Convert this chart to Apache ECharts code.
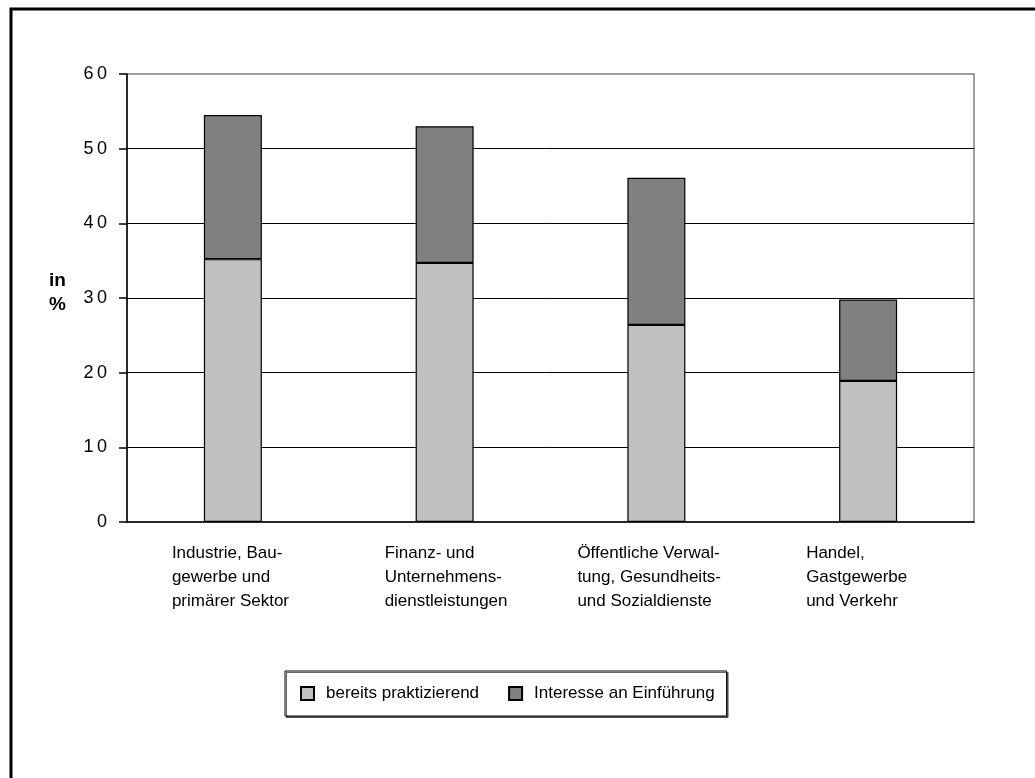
<!DOCTYPE html>
<html>
<head>
<meta charset="utf-8">
<script src="https://cdn.jsdelivr.net/npm/echarts@6/dist/echarts.min.js"></script>
<style>
  html, body { margin: 0; padding: 0; background: #fff; overflow: hidden; }
  #chart { width: 1035px; height: 778px; }
</style>
</head>
<body>
<div id="chart"></div>
<script>
// Sectors (each label broken into its printed lines)
const categories = [
  ['Industrie, Bau-', 'gewerbe und', 'primärer Sektor'],
  ['Finanz- und', 'Unternehmens-', 'dienstleistungen'],
  ['Öffentliche Verwal-', 'tung, Gesundheits-', 'und Sozialdienste'],
  ['Handel,', 'Gastgewerbe', 'und Verkehr']
];
const seriesNames = ['bereits praktizierend', 'Interesse an Einführung'];
// Share of firms, in %
const practising = [35.2, 34.7, 26.4, 18.9];
const interested = [19.3, 18.3, 19.7, 10.9];
const yMin = 0, yMax = 60, yStep = 10;
const axisTitle = 'in\n%';

// Width of the wrapped text box under each category (lines are left-aligned inside it)
const labelBoxWidths = [122, 120, 158, 124];

const FONT = 'Liberation Sans, Arial, sans-serif';
const chart = echarts.init(document.getElementById('chart'), null, { renderer: 'canvas' });

const labelRich = {};
labelBoxWidths.forEach((w, i) => {
  labelRich['l' + i] = { align: 'left', width: w, fontSize: 17, lineHeight: 24, fontFamily: FONT, color: '#000' };
});

chart.setOption({
  backgroundColor: '#fff',
  animation: false,
  textStyle: { fontFamily: FONT, color: '#000' },
  grid: {
    left: 127, top: 74, right: 61, bottom: 256,
    show: true, borderColor: '#808080', borderWidth: 1.5, backgroundColor: 'transparent'
  },
  graphic: [
    {
      type: 'rect', silent: true, z: 100,
      shape: { x: 11, y: 9, width: 1200, height: 1000 },
      style: { fill: 'none', stroke: '#000', lineWidth: 3 }
    },
    {
      type: 'text', left: 49, top: 269, silent: true,
      style: { text: axisTitle, font: 'bold 19px ' + FONT, fill: '#000', lineHeight: 24 }
    }
  ],
  legend: {
    data: seriesNames,
    left: 285, top: 671,
    orient: 'horizontal',
    padding: [14, 12, 14, 15],
    itemGap: 29,
    itemWidth: 13, itemHeight: 13,
    backgroundColor: '#fff',
    borderColor: '#000', borderWidth: 1,
    shadowColor: 'rgba(0,0,0,0.6)', shadowOffsetX: 1.5, shadowOffsetY: 1.5, shadowBlur: 0,
    icon: 'rect',
    selectedMode: false,
    textStyle: { fontSize: 17, fontFamily: FONT, color: '#000', padding: [0, 0, 0, 7] }
  },
  xAxis: {
    type: 'category',
    data: categories.map(c => c.join('\n')),
    boundaryGap: true,
    axisLine: { lineStyle: { color: '#000', width: 1.5 } },
    axisTick: { length: 10, lineStyle: { color: '#000', width: 1.5 } },
    axisLabel: {
      margin: 19,
      interval: 0,
      formatter: (v, i) => v.split('\n').map(l => '{l' + i + '|' + l + '}').join('\n'),
      rich: labelRich
    },
    splitLine: { show: false }
  },
  yAxis: {
    type: 'value',
    min: yMin, max: yMax, interval: yStep,
    axisLine: { show: true, lineStyle: { color: '#000', width: 1.5 } },
    axisTick: { show: true, length: 8, lineStyle: { color: '#000', width: 1.5 } },
    axisLabel: {
      margin: 20, fontSize: 18, fontFamily: FONT, color: '#000',
      formatter: v => String(v).split('').join('\u2009')
    },
    splitLine: { show: true, showMinLine: false, showMaxLine: false, lineStyle: { color: '#000', width: 1 } }
  },
  series: [
    {
      name: seriesNames[0], type: 'bar', stack: 'total', barWidth: 58,
      data: practising,
      itemStyle: { color: '#C0C0C0', borderColor: '#000', borderWidth: 1.2 }
    },
    {
      name: seriesNames[1], type: 'bar', stack: 'total', barWidth: 58,
      data: interested,
      itemStyle: { color: '#808080', borderColor: '#000', borderWidth: 1.2 }
    }
  ]
});
</script>
</body>
</html>
